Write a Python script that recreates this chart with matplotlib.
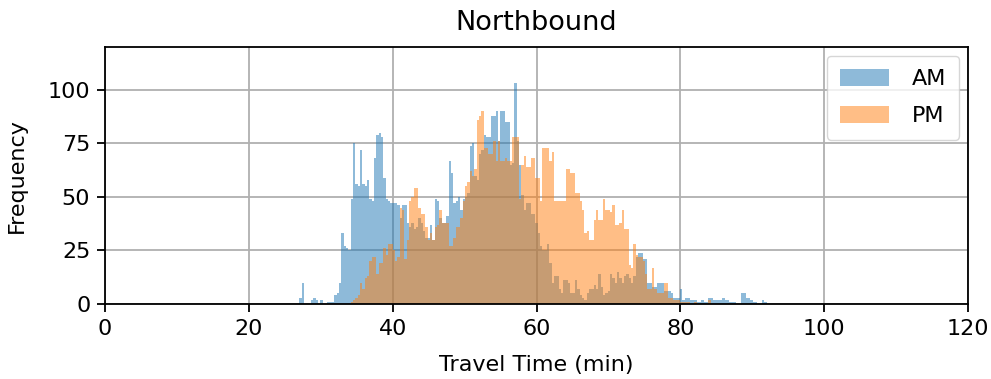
import numpy as np
import matplotlib
matplotlib.use("Agg")
import matplotlib.pyplot as plt

# common bin edges for both series (200 bins, 27 -> 92 min)
bin_lo, bin_hi, n_bins = 27.0, 92.0, 200

am_counts = [
    3, 10, 0, 0, 0, 2, 3, 2, 0, 2,
    0, 0, 1, 1, 1, 4, 5, 10, 33, 27,
    26, 25, 49, 75, 56, 55, 72, 56, 55, 58,
    49, 48, 68, 79, 80, 78, 59, 49, 48, 47,
    47, 47, 46, 40, 46, 46, 38, 36, 38, 35,
    36, 40, 38, 34, 31, 31, 37, 30, 49, 48,
    40, 38, 38, 41, 67, 61, 47, 48, 50, 44,
    49, 50, 52, 74, 75, 60, 58, 70, 72, 79,
    78, 78, 88, 88, 90, 76, 90, 90, 85, 85,
    65, 66, 103, 76, 65, 51, 44, 47, 47, 42,
    42, 38, 33, 27, 25, 25, 28, 19, 10, 13,
    13, 7, 5, 11, 11, 10, 5, 5, 11, 7,
    4, 3, 2, 5, 7, 7, 9, 7, 14, 8,
    4, 5, 6, 14, 12, 10, 15, 12, 10, 13,
    14, 12, 10, 13, 22, 24, 24, 21, 21, 10,
    10, 8, 8, 10, 10, 10, 6, 6, 6, 5,
    3, 3, 3, 7, 2, 3, 3, 2, 2, 2,
    1, 1, 2, 1, 1, 3, 3, 2, 2, 2,
    2, 3, 2, 2, 1, 1, 1, 0, 0, 5,
    5, 3, 3, 2, 1, 1, 0, 0, 2, 1,
]

pm_counts = [
    0, 0, 0, 0, 0, 0, 0, 0, 0, 0,
    0, 0, 0, 0, 0, 0, 0, 0, 0, 0,
    0, 0, 1, 2, 3, 4, 10, 7, 12, 13,
    20, 22, 22, 14, 19, 19, 26, 23, 28, 28,
    25, 20, 22, 45, 44, 21, 30, 48, 50, 54,
    54, 45, 42, 42, 36, 30, 33, 30, 36, 37,
    44, 38, 38, 38, 27, 27, 31, 36, 36, 40,
    48, 55, 57, 62, 60, 63, 86, 88, 90, 73,
    73, 70, 70, 76, 67, 76, 67, 67, 68, 67,
    67, 78, 78, 78, 49, 65, 69, 64, 64, 68,
    68, 59, 59, 48, 73, 73, 73, 67, 71, 48,
    48, 48, 48, 48, 63, 63, 61, 61, 52, 52,
    48, 44, 33, 34, 30, 30, 39, 44, 39, 39,
    49, 44, 44, 43, 46, 37, 37, 38, 44, 35,
    35, 18, 17, 28, 23, 22, 22, 20, 14, 7,
    7, 17, 7, 5, 5, 5, 10, 10, 3, 3,
    2, 2, 2, 1, 1, 1, 1, 0, 0, 1,
    0, 0, 0, 0, 0, 2, 0, 0, 0, 0,
    0, 0, 0, 0, 0, 0, 0, 0, 0, 0,
    0, 0, 0, 0, 0, 0, 0, 0, 0, 0,
]

series = ["AM", "PM"]
x_ticks = [0, 20, 40, 60, 80, 100, 120]
y_ticks = [0, 25, 50, 75, 100]

plt.rcParams["font.size"] = 16

edges = np.linspace(bin_lo, bin_hi, n_bins + 1)
centers = 0.5 * (edges[:-1] + edges[1:])

fig, ax = plt.subplots(figsize=(9.91, 3.79), dpi=100)
fig.subplots_adjust(left=105 / 991, right=968 / 991, top=1 - 47 / 379, bottom=1 - 304 / 379)

for name, counts in zip(series, [am_counts, pm_counts]):
    ax.hist(centers, bins=edges, weights=counts, alpha=0.5, label=name)

ax.set_xlim(0, 120)
ax.set_ylim(0, 120)
ax.set_xticks(x_ticks)
ax.set_yticks(y_ticks)
ax.grid(True, color="#b0b0b0", linewidth=1.3)
ax.set_axisbelow(True)
ax.tick_params(length=5.6, width=1.3, pad=5)
for s in ax.spines.values():
    s.set_linewidth(1.3)

ax.set_title("Northbound", fontsize=19.5, pad=12)
ax.set_xlabel("Travel Time (min)", labelpad=12)
ax.set_ylabel("Frequency", labelpad=15)
ax.legend(loc="upper right", fontsize=16, borderaxespad=0.4,
          handlelength=2.2, handleheight=0.8, handletextpad=1.0,
          labelspacing=0.75, borderpad=0.6)

fig.savefig("out.png", dpi=100)
